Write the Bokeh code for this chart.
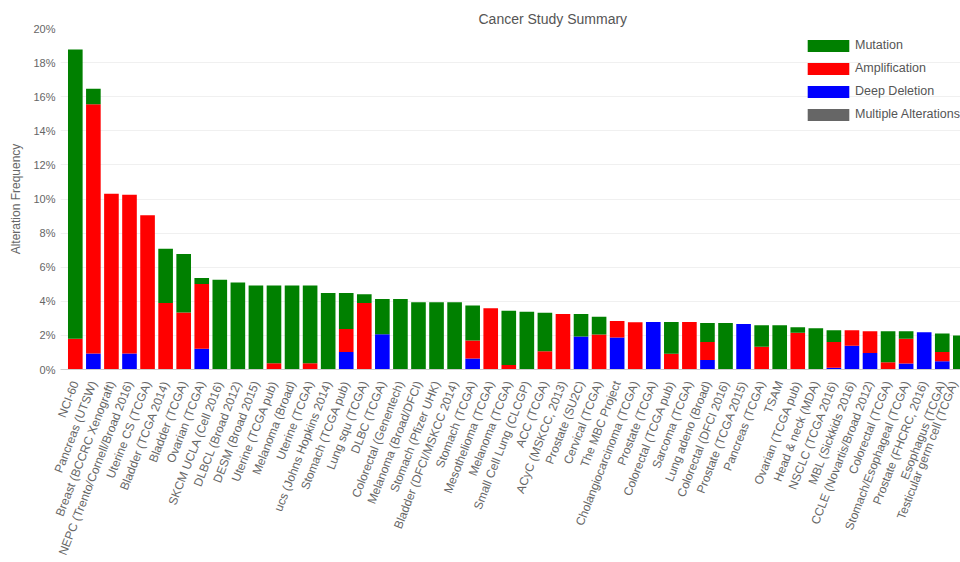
from bokeh.plotting import figure
from bokeh.models import (ColumnDataSource, Range1d, FixedTicker, PrintfTickFormatter,
                          Legend, LegendItem, Title)
from bokeh.embed import file_html
from bokeh.resources import INLINE

categories = [
    "NCI-60", "Pancreas (UTSW)", "Breast (BCCRC Xenograft)", "NEPC (Trento/Cornell/Broad 2016)",
    "Uterine CS (TCGA)", "Bladder (TCGA 2014)", "Bladder (TCGA)", "Ovarian (TCGA)",
    "SKCM UCLA (Cell 2016)", "DLBCL (Broad 2012)", "DESM (Broad 2015)", "Uterine (TCGA pub)",
    "Melanoma (Broad)", "Uterine (TCGA)", "ucs (Johns Hopkins 2014)", "Stomach (TCGA pub)",
    "Lung squ (TCGA)", "DLBC (TCGA)", "Colorectal (Genentech)", "Melanoma (Broad/DFCI)",
    "Stomach (Pfizer UHK)", "Bladder (DFCI/MSKCC 2014)", "Stomach (TCGA)", "Mesothelioma (TCGA)",
    "Melanoma (TCGA)", "Small Cell Lung (CLCGP)", "ACC (TCGA)", "ACyC (MSKCC, 2013)",
    "Prostate (SU2C)", "Cervical (TCGA)", "The MBC Project", "Cholangiocarcinoma (TCGA)",
    "Prostate (TCGA)", "Colorectal (TCGA pub)", "Sarcoma (TCGA)", "Lung adeno (Broad)",
    "Colorectal (DFCI 2016)", "Prostate (TCGA 2015)", "Pancreas (TCGA)", "TSAM",
    "Ovarian (TCGA pub)", "Head & neck (MDA)", "NSCLC (TCGA 2016)", "MBL (Sickkids 2016)",
    "CCLE (Novartis/Broad 2012)", "Colorectal (TCGA)", "Stomach/Esophageal (TCGA)",
    "Prostate (FHCRC, 2016)", "Esophagus (TCGA)", "Testicular germ cell (TCGA)",
]

deep_deletion = [
    0, 0.94, 0, 0.94, 0, 0, 0, 1.21, 0, 0,
    0, 0, 0, 0, 0, 1.03, 0, 2.07, 0, 0,
    0, 0, 0.64, 0, 0, 0, 0, 0, 1.93, 0,
    1.87, 0, 2.79, 0, 0, 0.55, 0, 2.67, 0, 0,
    0, 0, 0.10, 1.40, 0.97, 0, 0.35, 2.18, 0.49, 0,
]
amplification = [
    1.80, 14.62, 10.31, 9.31, 9.04, 3.90, 3.35, 3.80, 0, 0,
    0, 0.37, 0, 0.37, 0, 1.35, 3.90, 0, 0, 0,
    0, 0, 1.06, 3.59, 0.27, 0, 1.07, 3.25, 0, 2.05,
    0.98, 2.77, 0, 0.92, 2.79, 1.07, 0, 0, 1.33, 0,
    2.16, 0, 1.52, 0.90, 1.27, 0.43, 1.46, 0, 0.54, 0,
]
mutation = [
    16.97, 0.91, 0, 0, 0, 3.18, 3.43, 0.35, 5.26, 5.10,
    4.93, 4.56, 4.93, 4.56, 4.48, 2.10, 0.52, 2.06, 4.13, 3.94,
    3.94, 3.94, 2.06, 0, 3.18, 3.39, 2.26, 0, 1.32, 1.05,
    0, 0, 0, 1.87, 0, 1.11, 2.73, 0, 1.26, 2.59,
    0.32, 2.42, 0.68, 0, 0, 1.81, 0.43, 0, 1.08, 1.99,
]
multiple_alterations = [0] * 50

y_ticks = [0, 2, 4, 6, 8, 10, 12, 14, 16, 18, 20]

FONT = "Liberation Sans"

source = ColumnDataSource(dict(
    x=list(range(len(categories))),
    deletion=deep_deletion,
    amplification=amplification,
    mutation=mutation,
    multiple=multiple_alterations,
))

p = figure(width=960, height=562, output_backend="svg", toolbar_location=None,
           x_range=Range1d(-0.82, 49.01), y_range=Range1d(0, 20),
           min_border_left=60, min_border_right=0, min_border_top=28, min_border_bottom=192)
p.outline_line_color = None
p.background_fill_color = "white"

rs = p.vbar_stack(["deletion", "amplification", "mutation", "multiple"], x="x", width=0.81,
                  color=["#0000FF", "#FF0000", "#008000", "#666666"], line_color=None,
                  source=source)

# axes
p.xaxis.ticker = FixedTicker(ticks=list(range(len(categories))))
p.xaxis.major_label_overrides = {i: c for i, c in enumerate(categories)}
p.xaxis.major_label_orientation = 1.2
p.xaxis.major_label_text_font = FONT
p.xaxis.major_label_text_font_size = "12px"
p.xaxis.major_label_text_color = "#666666"
p.xaxis.major_label_standoff = 6
p.xaxis.major_tick_line_color = None
p.xaxis.minor_tick_line_color = None
p.xaxis.axis_line_color = "#cccccc"

p.yaxis.ticker = FixedTicker(ticks=y_ticks)
p.yaxis.formatter = PrintfTickFormatter(format="%d%%")
p.yaxis.major_label_text_font = FONT
p.yaxis.major_label_text_font_size = "11px"
p.yaxis.major_label_text_color = "#666666"
p.yaxis.major_label_standoff = 5
p.yaxis.major_tick_out = 0
p.yaxis.major_tick_in = 0
p.yaxis.minor_tick_out = 0
p.yaxis.major_tick_line_color = None
p.yaxis.minor_tick_line_color = None
p.yaxis.axis_line_color = None
p.yaxis.axis_label = "Alteration Frequency"
p.yaxis.axis_label_text_font = FONT
p.yaxis.axis_label_text_font_size = "12px"
p.yaxis.axis_label_text_font_style = "normal"
p.yaxis.axis_label_text_color = "#666666"
p.yaxis.axis_label_standoff = 7

p.xgrid.grid_line_color = None
p.ygrid.grid_line_color = "#f0f0f0"

p.add_layout(Title(text="Cancer Study Summary", align="left", offset=418,
                   text_font=FONT, text_font_size="14px", text_font_style="normal",
                   text_color="#555555", standoff=4), "above")

legend = Legend(items=[
    LegendItem(label="Mutation", renderers=[rs[2]]),
    LegendItem(label="Amplification", renderers=[rs[1]]),
    LegendItem(label="Deep Deletion", renderers=[rs[0]]),
    LegendItem(label="Multiple Alterations", renderers=[rs[3]]),
], location=(742, 245), glyph_width=52, glyph_height=15, label_height=20, spacing=3,
    label_standoff=1, padding=0, margin=0, border_line_color=None, background_fill_alpha=0,
    label_text_font=FONT, label_text_font_size="12.5px", label_text_color="#555555")
p.add_layout(legend)

open("out.html", "w").write(file_html(p, INLINE))
